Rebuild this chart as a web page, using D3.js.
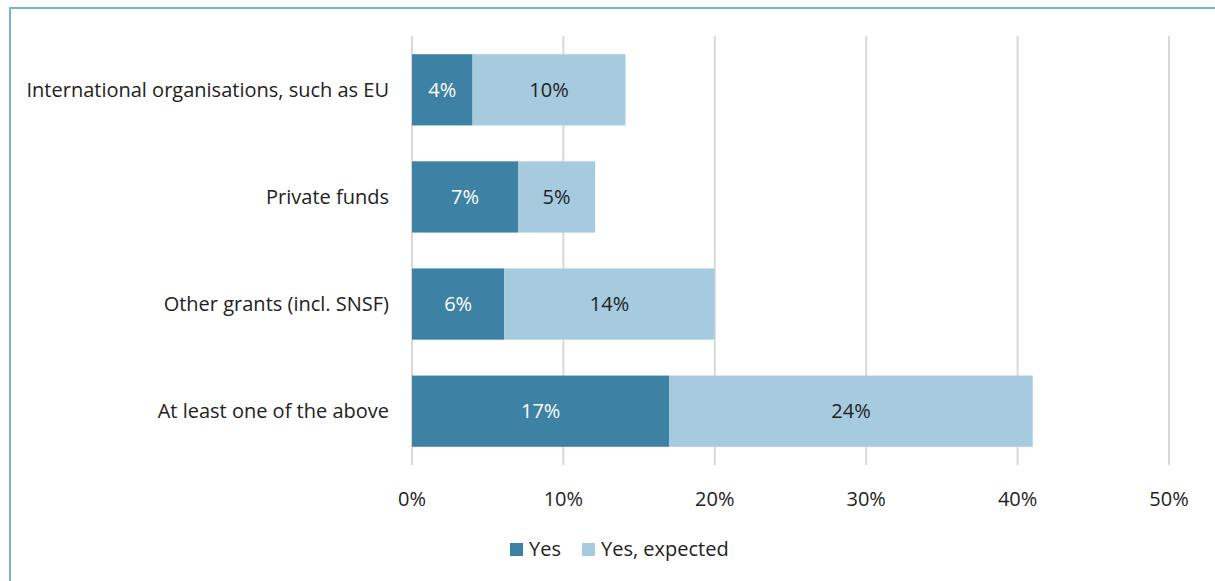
<!DOCTYPE html>
<html>
<head>
<meta charset="utf-8">
<script src="https://cdn.jsdelivr.net/npm/d3@7"></script>
<style>
  body { margin: 0; background: #fff; }
  text { font-family: "Open Sans", "Noto Sans", sans-serif; }
</style>
</head>
<body>
<div id="chart"></div>
<script>
var width = 1215;
var height = 581;

// data (percent)
var categories = ["International organisations, such as EU", "Private funds", "Other grants (incl. SNSF)", "At least one of the above"];
var yesValues = [4.0, 7.0, 6.1, 17.0];
var expectedValues = [10.1, 5.1, 13.9, 24.0];
var seriesNames = ["Yes", "Yes, expected"];
var xTicks = [0, 10, 20, 30, 40, 50];

var colorYes = "#3d81a5";
var colorExpected = "#a6cbdf";

var svg = d3.select("#chart").append("svg")
    .attr("width", width)
    .attr("height", height);

// frame of the figure box
svg.append("path")
    .attr("d", "M10,581 L10,8 L1215,8")
    .attr("fill", "none")
    .attr("stroke", "#74b2d6")
    .attr("stroke-width", 2);

var x = d3.scaleLinear().domain([0, 50]).range([412, 1169]);
var y = d3.scaleBand().domain(categories).range([36, 465]).paddingInner(0.335).paddingOuter(0.17);

// gridlines
svg.append("g").selectAll("line")
    .data(xTicks)
    .join("line")
    .attr("x1", d => x(d)).attr("x2", d => x(d))
    .attr("y1", 36).attr("y2", 465)
    .attr("stroke", "#d9d9d9")
    .attr("stroke-width", 2);

var rows = categories.map(function (c, i) {
    return { cat: c, yes: yesValues[i], exp: expectedValues[i] };
});

var g = svg.append("g");

// Yes bars
g.selectAll(".yes")
    .data(rows)
    .join("rect")
    .attr("class", "yes")
    .attr("x", x(0))
    .attr("y", d => y(d.cat))
    .attr("width", d => x(d.yes) - x(0))
    .attr("height", y.bandwidth())
    .attr("fill", colorYes);

// Yes, expected bars (stacked)
g.selectAll(".exp")
    .data(rows)
    .join("rect")
    .attr("class", "exp")
    .attr("x", d => x(d.yes))
    .attr("y", d => y(d.cat))
    .attr("width", d => x(d.yes + d.exp) - x(d.yes))
    .attr("height", y.bandwidth())
    .attr("fill", colorExpected);

// value labels
g.selectAll(".yesLabel")
    .data(rows)
    .join("text")
    .attr("x", d => x(d.yes / 2))
    .attr("y", d => y(d.cat) + y.bandwidth() / 2)
    .attr("dy", "0.35em")
    .attr("text-anchor", "middle")
    .attr("font-size", 20)
    .attr("fill", "#ffffff")
    .text(d => Math.round(d.yes) + "%");

g.selectAll(".expLabel")
    .data(rows)
    .join("text")
    .attr("x", d => x(d.yes + d.exp / 2))
    .attr("y", d => y(d.cat) + y.bandwidth() / 2)
    .attr("dy", "0.35em")
    .attr("text-anchor", "middle")
    .attr("font-size", 20)
    .attr("fill", "#222")
    .text(d => Math.round(d.exp) + "%");

// category labels
svg.append("g").selectAll("text")
    .data(categories)
    .join("text")
    .attr("x", 389)
    .attr("y", d => y(d) + y.bandwidth() / 2)
    .attr("dy", "0.35em")
    .attr("text-anchor", "end")
    .attr("font-size", 20)
    .attr("fill", "#222")
    .text(d => d);

// x tick labels
svg.append("g").selectAll("text")
    .data(xTicks)
    .join("text")
    .attr("x", d => x(d))
    .attr("y", 499)
    .attr("dy", "0.35em")
    .attr("text-anchor", "middle")
    .attr("font-size", 20)
    .attr("fill", "#222")
    .text(d => d + "%");

// legend
var legendX = [510, 582];
var legend = svg.append("g");
seriesNames.forEach(function (name, i) {
    legend.append("rect")
        .attr("x", legendX[i]).attr("y", 543)
        .attr("width", 13).attr("height", 13)
        .attr("fill", i === 0 ? colorYes : colorExpected);
    legend.append("text")
        .attr("x", legendX[i] + 19).attr("y", 549)
        .attr("dy", "0.35em")
        .attr("font-size", 20)
        .attr("fill", "#222")
        .text(name);
});
</script>
</body>
</html>
